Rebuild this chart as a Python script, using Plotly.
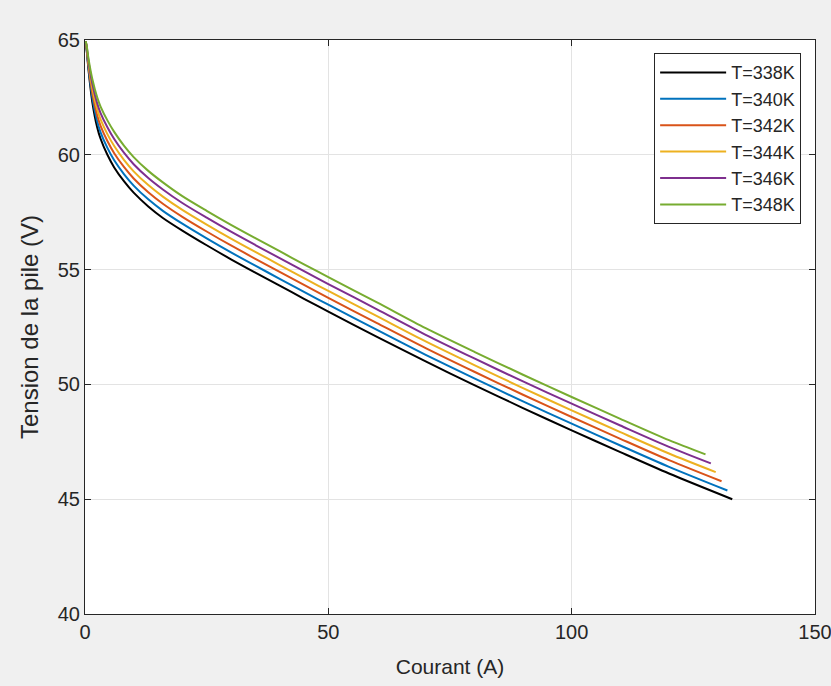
import plotly.graph_objects as go

# Current (A) sample points shared by all curves (before each curve's own end point)
current_common = [0.15, 0.35, 0.75, 1.5, 2.5, 3.2, 4.6, 6, 8, 10, 13, 16, 20, 25, 30, 35,
                  40, 45, 50, 60, 70, 80, 90, 100, 110, 120]

labels = ["T=338K", "T=340K", "T=342K", "T=344K", "T=346K", "T=348K"]
end_current = [133, 132, 130.8, 129.6, 128.6, 127.5]
end_voltage = [45.0, 45.38, 45.78, 46.18, 46.56, 46.95]

v_338 = [64.95, 64.55, 63.64, 62.30, 61.20, 60.70, 60.00, 59.45, 58.85, 58.35, 57.75, 57.25,
         56.70, 56.06, 55.45, 54.87, 54.30, 53.73, 53.17, 52.07, 51.00, 49.97, 48.97, 48.00,
         47.05, 46.12]
v_340 = [64.95, 64.59, 63.74, 62.50, 61.46, 60.98, 60.30, 59.76, 59.16, 58.66, 58.06, 57.56,
         57.00, 56.36, 55.75, 55.17, 54.60, 54.03, 53.47, 52.37, 51.29, 50.26, 49.26, 48.29,
         47.34, 46.41]
v_342 = [64.95, 64.63, 63.84, 62.70, 61.72, 61.26, 60.60, 60.07, 59.47, 58.97, 58.37, 57.87,
         57.30, 56.66, 56.05, 55.47, 54.90, 54.33, 53.77, 52.67, 51.58, 50.55, 49.55, 48.58,
         47.63, 46.70]
v_344 = [64.95, 64.67, 63.94, 62.90, 61.98, 61.54, 60.90, 60.38, 59.78, 59.28, 58.68, 58.18,
         57.60, 56.96, 56.35, 55.77, 55.20, 54.63, 54.07, 52.97, 51.87, 50.84, 49.84, 48.87,
         47.92, 46.99]
v_346 = [64.95, 64.71, 64.04, 63.10, 62.24, 61.82, 61.20, 60.69, 60.09, 59.59, 58.99, 58.49,
         57.90, 57.26, 56.65, 56.07, 55.50, 54.93, 54.37, 53.27, 52.16, 51.13, 50.13, 49.16,
         48.21, 47.28]
v_348 = [64.95, 64.75, 64.14, 63.30, 62.50, 62.10, 61.50, 61.00, 60.40, 59.90, 59.30, 58.80,
         58.20, 57.56, 56.95, 56.37, 55.80, 55.23, 54.67, 53.57, 52.45, 51.42, 50.42, 49.45,
         48.50, 47.57]

x_ticks = [0, 50, 100, 150]
y_ticks = [40, 45, 50, 55, 60, 65]

colors = ["#000000", "#0072BD", "#D95319", "#EDB120", "#7E2F8E", "#77AC30"]
voltages = [v_338, v_340, v_342, v_344, v_346, v_348]

fig = go.Figure()
for lab, col, v, ie, ve in zip(labels, colors, voltages, end_current, end_voltage):
    fig.add_trace(go.Scatter(
        x=current_common + [ie], y=v + [ve], mode="lines", name=lab,
        line=dict(color=col, width=2, shape="spline", smoothing=0.8),
    ))

FONT = "Liberation Sans, Arial, Helvetica, sans-serif"
axis_common = dict(
    showline=True, linecolor="#262626", linewidth=1, mirror="ticks",
    ticks="inside", ticklen=6, tickcolor="#262626",
    showgrid=True, gridcolor="#e3e3e3", gridwidth=1,
    zeroline=False, ticklabeloverflow="allow", automargin=False,
    tickfont=dict(family=FONT, size=20, color="#262626"),
)

fig.update_layout(
    width=831, height=686,
    paper_bgcolor="#f0f0f0", plot_bgcolor="#ffffff",
    margin=dict(l=85, r=16, t=40, b=72),
    font=dict(family=FONT, color="#262626"),
    xaxis=dict(range=[0, 150], tickvals=x_ticks, ticktext=[str(t) for t in x_ticks],
               title=dict(text="Courant (A)", font=dict(size=21, color="#262626"), standoff=17),
               **axis_common),
    yaxis=dict(range=[40, 65], tickvals=y_ticks, ticktext=[str(t) for t in y_ticks],
               title=dict(text="Tension de la pile (V)", font=dict(size=24, color="#262626"), standoff=12),
               **axis_common),
    legend=dict(x=0.981, y=0.977, xanchor="right", yanchor="top",
                bgcolor="#ffffff", bordercolor="#262626", borderwidth=1,
                font=dict(size=18, color="#262626"), itemwidth=66,
                tracegroupgap=0),
    showlegend=True,
)

fig.write_html("out.html", config={"displayModeBar": False},
               post_script="document.body.style.margin='0';")
